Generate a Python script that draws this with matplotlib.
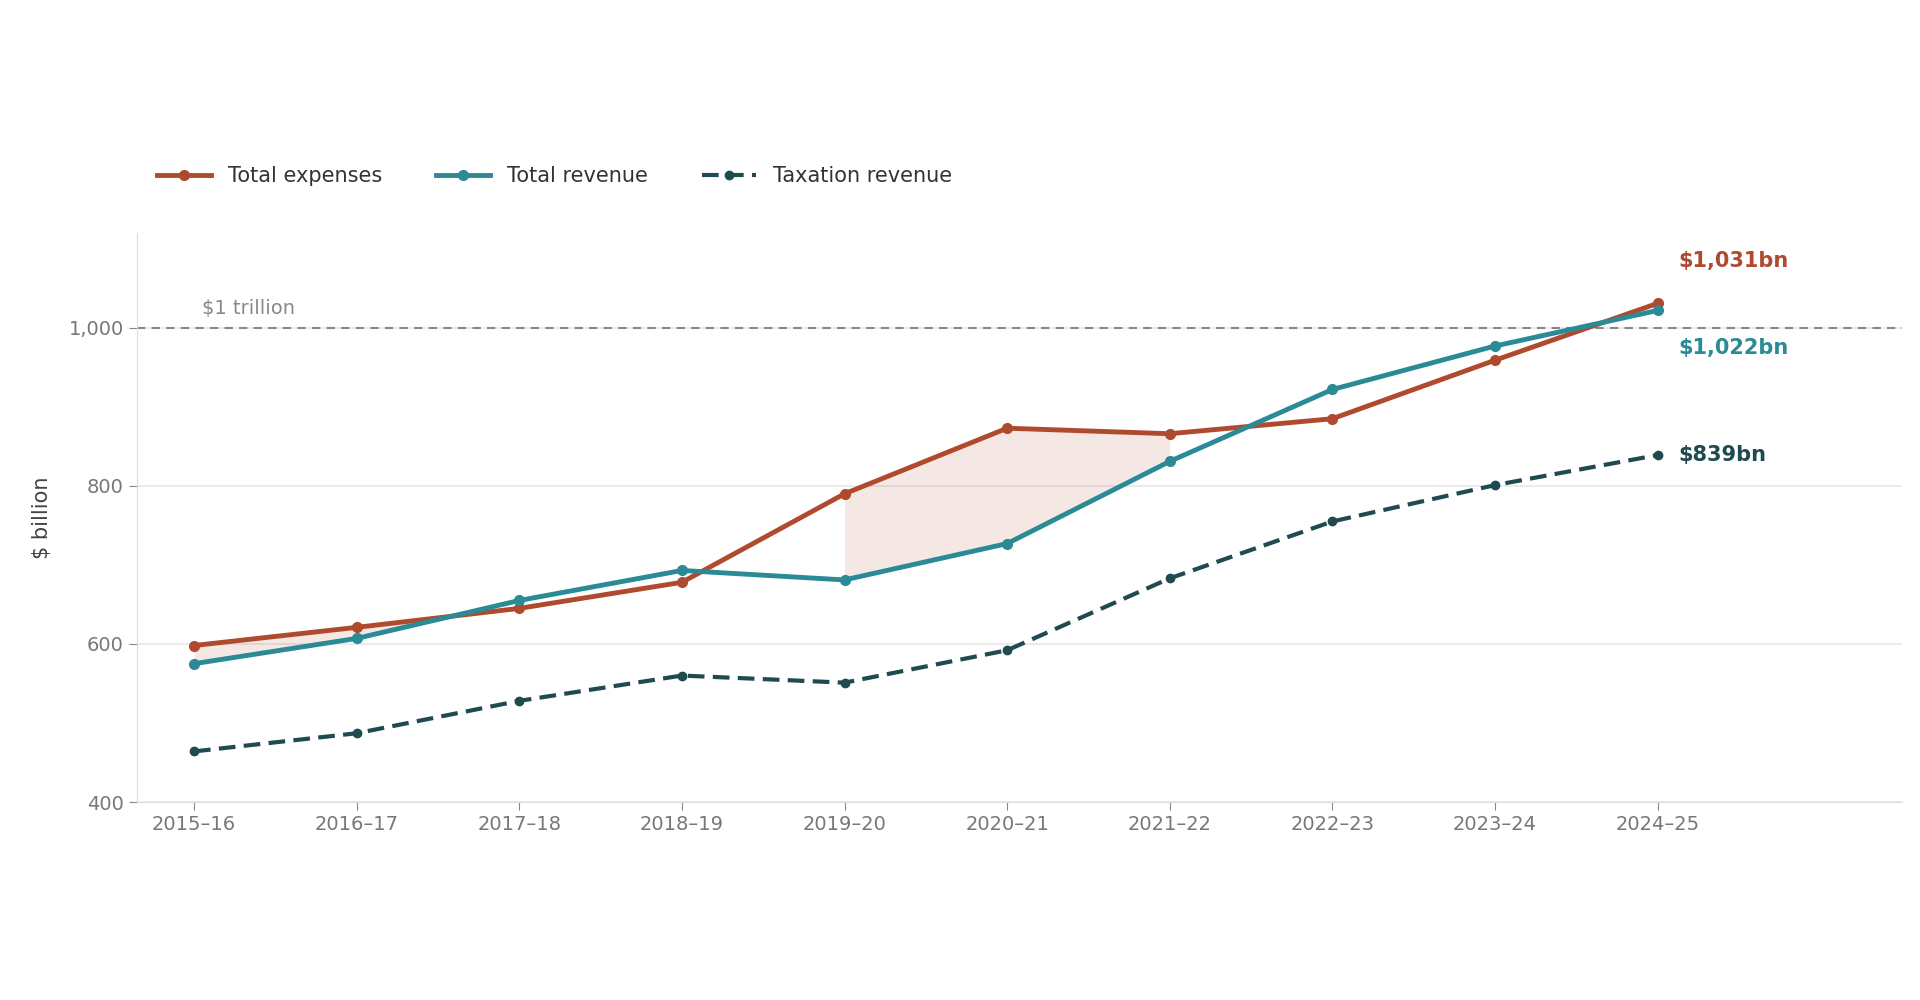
import matplotlib
matplotlib.use("Agg")
import matplotlib.pyplot as plt
import numpy as np

years = ["2015–16", "2016–17", "2017–18", "2018–19", "2019–20",
         "2020–21", "2021–22", "2022–23", "2023–24", "2024–25"]
expenses = [598, 621, 645, 678, 790, 873, 866, 885, 959, 1031]
revenue = [575, 607, 655, 693, 681, 727, 831, 922, 977, 1022]
taxation = [464, 487, 528, 560, 551, 592, 683, 755, 801, 839]

C_EXP = "#b04a2f"
C_REV = "#2a8a96"
C_TAX = "#1f4a4f"
GREY = "#888888"

plt.rcParams["font.family"] = ["DejaVu Sans"]
fig = plt.figure(figsize=(19.2, 10), dpi=100)
ax = fig.add_axes([0.0714, 0.198, 0.919, 0.569])

x = np.arange(len(years))
e = np.array(expenses, float)
r = np.array(revenue, float)

# deficit shading
for lo, hi in [(0, 2), (4, 6)]:
    xs = x[lo:hi + 1]
    ax.fill_between(xs, e[lo:hi + 1], r[lo:hi + 1], where=e[lo:hi + 1] >= r[lo:hi + 1],
                    interpolate=True, color=C_EXP, alpha=0.13, lw=0, zorder=1)

ax.axhline(1000, color=GREY, ls=(0, (4, 3)), lw=1.5, zorder=2)
ax.text(0.05, 1012, "$1 trillion", color=GREY, fontsize=14, va="bottom")

l1, = ax.plot(x, expenses, color=C_EXP, lw=3.5, marker="o", ms=7, zorder=4, label="Total expenses")
l2, = ax.plot(x, revenue, color=C_REV, lw=3.5, marker="o", ms=7, zorder=4, label="Total revenue")
l3, = ax.plot(x, taxation, color=C_TAX, lw=3, ls=(0, (4, 2)), marker="o", ms=6, zorder=3,
              label="Taxation revenue")

ax.text(9.13, 1084, "$1,031bn", color=C_EXP, fontsize=15, fontweight="bold", va="center")
ax.text(9.13, 974, "$1,022bn", color=C_REV, fontsize=15, fontweight="bold", va="center")
ax.text(9.13, 839, "$839bn", color=C_TAX, fontsize=15, fontweight="bold", va="center")

ax.set_xlim(-0.35, 10.5)
ax.set_ylim(400, 1120)
ax.set_xticks(x)
ax.set_xticklabels(years)
ax.set_yticks([400, 600, 800, 1000])
ax.set_yticklabels(["400", "600", "800", "1,000"])
ax.tick_params(colors=GREY, labelsize=14, length=6, labelcolor="#777777")
ax.yaxis.grid(True, color="#e8e8e8", lw=1.2)
ax.set_axisbelow(True)
for s in ["top", "right"]:
    ax.spines[s].set_visible(False)
for s in ["left", "bottom"]:
    ax.spines[s].set_color("#dddddd")
ax.set_ylabel("$ billion", fontsize=15, color="#444444", labelpad=12)

fig.legend(handles=[l1, l2, l3], loc="center left", bbox_to_anchor=(0.072, 0.824),
           ncol=3, frameon=False, fontsize=15, handlelength=2.6, columnspacing=2.6,
           labelcolor="#333333")

fig.savefig("out.png", dpi=100, facecolor="white")
